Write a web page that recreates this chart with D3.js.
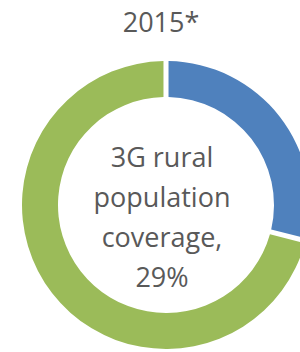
<!DOCTYPE html>
<html>
<head>
<meta charset="utf-8">
<script src="https://cdn.jsdelivr.net/npm/d3@7"></script>
<style>
  body { margin: 0; background: #fff; overflow: hidden; }
  text { font-family: "Open Sans", "Liberation Sans", sans-serif; fill: #595959; }
</style>
</head>
<body>
<div id="chart"></div>
<script>
// Chart data
var title = "2015*";
var categories = ["3G rural population coverage", "Not covered"];
var values = [29, 71];
var colors = ["#4f81bd", "#9bbb59"];
var centerLines = ["3G rural", "population", "coverage,", "29%"];

var width = 300;
var height = 352;

var svg = d3.select("#chart").append("svg")
    .attr("width", width)
    .attr("height", height);

// Donut centre and radii
var cx = 166, cy = 205;
var outerR = 144, innerR = 108;

var pie = d3.pie().sort(null).value(d => d);
var arc = d3.arc()
    .innerRadius(innerR)
    .outerRadius(outerR)
    .padAngle(0.028);

var g = svg.append("g")
    .attr("transform", "translate(" + cx + "," + cy + ")");

g.selectAll("path")
    .data(pie(values))
    .enter()
    .append("path")
    .attr("d", arc)
    .attr("fill", (d, i) => colors[i]);

// Title
svg.append("text")
    .attr("x", 161)
    .attr("y", 32)
    .attr("text-anchor", "middle")
    .attr("font-size", "27px")
    .text(title);

// Centre label
svg.append("g")
    .selectAll("text")
    .data(centerLines)
    .enter()
    .append("text")
    .attr("x", 162)
    .attr("y", (d, i) => 167 + i * 40)
    .attr("text-anchor", "middle")
    .attr("font-size", "27px")
    .text(d => d);
</script>
</body>
</html>
